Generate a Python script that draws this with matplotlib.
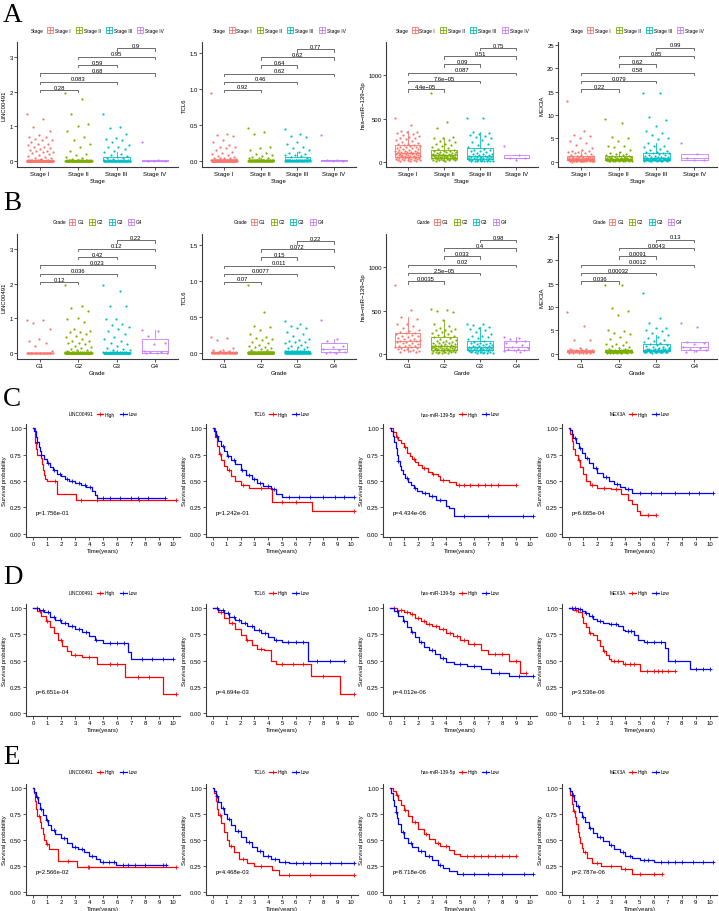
import numpy as np
import matplotlib.pyplot as plt
from matplotlib.lines import Line2D

plt.rcParams['font.family'] = ['Liberation Sans', 'DejaVu Sans']

W, H = 719, 912

# ---------------- box plot data (panels A and B) ----------------
stage_names = ["Stage I", "Stage II", "Stage III", "Stage IV"]
grade_names = ["G1", "G2", "G3", "G4"]
pairs = [(1, 2), (1, 3), (1, 4), (2, 3), (2, 4), (3, 4)]

stage_linc = [
    [1.35, 1.2, 0.97, 0.87, 0.75, 0.7, 0.68, 0.65, 0.62, 0.6, 0.55, 0.5, 0.48, 0.45, 0.42, 0.4,
     0.38, 0.35, 0.32, 0.3, 0.28, 0.27, 0.25, 0.22, 0.2, 0.18, 0.15, 0.12, 0.1, 0.08, 0.05, 0.04]
    + [0.0] * 70 + [0.01] * 25 + [0.02] * 10,
    [1.97, 1.8, 1.35, 1.08, 1.0, 0.88, 0.7, 0.62, 0.5, 0.42, 0.3, 0.2, 0.18, 0.12, 0.08, 0.06]
    + [0.0] * 45 + [0.01] * 15 + [0.03] * 12,
    [1.37, 0.98, 0.95, 0.77, 0.67, 0.65, 0.62, 0.55, 0.45, 0.42, 0.4, 0.35, 0.3, 0.25, 0.2, 0.17,
     0.15, 0.12, 0.1, 0.08, 0.06] + [0.0] * 30 + [0.01] * 12 + [0.03] * 8,
    [0.56, 0.02, 0.01, 0.0, 0.0],
]
stage_tcl6 = [
    [0.95, 0.37, 0.36, 0.35, 0.3, 0.27, 0.23, 0.2, 0.2, 0.18, 0.15, 0.13, 0.12, 0.1, 0.08, 0.07,
     0.06, 0.05, 0.05, 0.04, 0.04, 0.03] + [0.0] * 60 + [0.01] * 25 + [0.02] * 15,
    [0.46, 0.4, 0.37, 0.2, 0.18, 0.16, 0.12, 0.1, 0.08, 0.07, 0.06, 0.05, 0.04, 0.04]
    + [0.0] * 40 + [0.01] * 15 + [0.02] * 10,
    [0.45, 0.37, 0.35, 0.33, 0.27, 0.24, 0.2, 0.18, 0.15, 0.13, 0.12, 0.1, 0.09, 0.08, 0.07, 0.06,
     0.05] + [0.0] * 25 + [0.01] * 12 + [0.02] * 8,
    [0.36, 0.02, 0.01, 0.0, 0.0],
]
stage_mir = [
    [505, 420, 360, 350, 340, 330, 320, 310, 300, 290, 280, 270, 260, 250, 240, 230, 220, 210, 200,
     195, 190, 185, 180, 175, 170, 165, 160, 155, 150, 145, 140, 135, 130, 125, 120, 118, 115, 112,
     110, 108, 105, 102, 100, 98, 95, 92, 90, 88, 85, 82, 80, 78, 75, 72, 70, 68, 65, 62, 60, 58,
     55, 52, 50, 48, 45, 42, 40, 38, 35, 32, 30, 28, 25, 22, 20, 18, 15, 12, 10, 8],
    [800, 455, 390, 290, 280, 270, 255, 240, 225, 210, 200, 190, 180, 170, 160, 150, 140, 130, 125,
     120, 118, 115, 110, 105, 100, 95, 92, 90, 88, 85, 82, 80, 78, 76, 74, 72, 70, 68, 66, 64, 62,
     60, 58, 56, 54, 52, 50, 48, 46, 44, 42, 40, 38, 36, 34, 32, 30, 28, 26, 24, 22, 20, 18, 15, 12, 10],
    [510, 505, 340, 335, 320, 310, 300, 290, 270, 250, 230, 210, 190, 170, 150, 140, 135, 130, 120,
     110, 100, 95, 90, 85, 80, 75, 70, 65, 62, 60, 58, 55, 52, 50, 48, 45, 42, 40, 38, 35, 32, 30,
     28, 25, 22, 20, 18, 16, 14, 12, 10, 8, 6, 5, 4, 3],
    [185, 82, 48, 42, 25],
]
stage_mex3a = [
    [13.0, 6.5, 5.8, 5.5, 5.2, 4.5, 4.0, 3.5, 3.0, 2.5, 2.4, 2.3, 2.2, 2.0, 1.9, 1.8, 1.6, 1.5, 1.4,
     1.3, 1.2, 1.2, 1.1, 1.1, 1.0, 1.0, 0.95, 0.9, 0.9, 0.85, 0.8, 0.8, 0.75, 0.7, 0.7, 0.68, 0.65,
     0.62, 0.6, 0.6, 0.58, 0.55, 0.52, 0.5, 0.5, 0.48, 0.45, 0.42, 0.4, 0.4, 0.38, 0.35, 0.32, 0.3,
     0.3, 0.28, 0.25, 0.22, 0.2, 0.2, 0.18, 0.15, 0.12, 0.1, 0.08, 0.05,
     0.9, 0.8, 0.7, 0.6, 0.5, 0.45, 0.4, 0.35, 0.3, 0.25, 0.2, 0.15, 0.6, 0.5, 0.4, 0.3, 0.7, 0.55,
     0.45, 0.35],
    [9.2, 8.3, 5.3, 5.0, 4.4, 3.3, 3.3, 3.2, 2.5, 2.0, 1.8, 1.7, 1.6, 1.5, 1.4, 1.3, 1.2, 1.2, 1.1,
     1.0, 1.0, 0.95, 0.9, 0.9, 0.85, 0.8, 0.8, 0.75, 0.7, 0.7, 0.65, 0.6, 0.6, 0.58, 0.55, 0.52, 0.5,
     0.5, 0.48, 0.45, 0.42, 0.4, 0.4, 0.38, 0.35, 0.32, 0.3, 0.3, 0.28, 0.25, 0.22, 0.2, 0.18, 0.15,
     0.12, 0.1, 0.9, 0.8, 0.7, 0.6, 0.5, 0.45, 0.4, 0.35, 0.3, 0.25, 0.6, 0.5, 0.4, 0.3],
    [14.8, 14.7, 9.6, 9.0, 7.6, 6.5, 6.2, 5.7, 5.0, 4.8, 4.0, 3.4, 3.3, 3.2, 2.8, 2.5, 2.3, 2.2, 2.0,
     1.9, 1.9, 1.8, 1.6, 1.5, 1.4, 1.3, 1.2, 1.1, 1.0, 1.0, 0.95, 0.9, 0.85, 0.8, 0.75, 0.7, 0.7,
     0.65, 0.6, 0.55, 0.5, 0.5, 0.45, 0.4, 0.38, 0.35, 0.3, 0.28, 0.25, 0.2, 0.15, 0.1,
     0.9, 0.8, 0.7, 0.6, 0.5, 0.45, 0.4, 0.35, 0.3, 0.25, 0.6, 0.5, 0.4, 0.3, 0.7, 0.55, 0.45, 0.35,
     0.2, 0.65, 0.75, 0.5, 0.4, 0.3],
    [4.0, 1.6, 0.8, 0.5, 0.3],
]

grade_linc = [
    [0.95, 0.95, 0.88, 0.68, 0.42, 0.35, 0.28, 0.2, 0.05] + [0.0] * 25 + [0.01] * 8,
    [1.97, 1.37, 1.3, 1.2, 1.0, 0.98, 0.9, 0.7, 0.65, 0.6, 0.6, 0.55, 0.5, 0.45, 0.4, 0.35, 0.35,
     0.3, 0.28, 0.25, 0.2, 0.18, 0.15, 0.12, 0.1, 0.08, 0.06] + [0.0] * 70 + [0.01] * 20 + [0.03] * 15,
    [1.97, 1.8, 1.35, 1.35, 0.98, 0.97, 0.85, 0.8, 0.75, 0.7, 0.65, 0.55, 0.45, 0.4, 0.35, 0.3, 0.25,
     0.2, 0.15, 0.12, 0.1, 0.08] + [0.0] * 50 + [0.01] * 15 + [0.04] * 10,
    [0.66, 0.63, 0.5, 0.3, 0.25, 0.05, 0.03, 0.02, 0.01, 0.0, 0.0],
]
grade_tcl6 = [
    [0.23, 0.21, 0.18, 0.07, 0.05, 0.04, 0.03, 0.03] + [0.0] * 25 + [0.01] * 10,
    [0.95, 0.57, 0.37, 0.36, 0.32, 0.27, 0.23, 0.21, 0.19, 0.18, 0.16, 0.14, 0.12, 0.1, 0.09, 0.08,
     0.07, 0.06, 0.05, 0.04] + [0.0] * 90 + [0.01] * 25 + [0.02] * 15,
    [0.45, 0.4, 0.37, 0.35, 0.35, 0.3, 0.27, 0.24, 0.2, 0.18, 0.17, 0.16, 0.15, 0.14, 0.12, 0.1,
     0.09, 0.08, 0.07, 0.06] + [0.0] * 45 + [0.01] * 15 + [0.03] * 12,
    [0.46, 0.19, 0.17, 0.1, 0.08, 0.06, 0.05, 0.02, 0.01, 0.0, 0.0],
]
grade_mir = [
    [800, 510, 420, 400, 350, 340, 320, 300, 280, 260, 250, 240, 235, 230, 220, 210, 200, 190, 180,
     170, 165, 160, 155, 150, 145, 140, 135, 130, 120, 110, 100, 95, 90, 85, 80, 75, 70, 65, 60, 50,
     45, 40, 35, 30, 25, 20],
    [520, 510, 500, 480, 390, 340, 320, 300, 290, 280, 270, 260, 250, 240, 230, 220, 210, 200, 190,
     180, 170, 160, 150, 145, 140, 135, 130, 125, 120, 115, 110, 105, 100, 97, 95, 92, 90, 88, 85, 82,
     80, 78, 75, 72, 70, 68, 65, 62, 60, 58, 55, 52, 50, 48, 45, 42, 40, 38, 35, 32, 30, 28, 25, 22,
     20, 18, 15, 12, 10, 8, 5],
    [350, 340, 330, 310, 300, 290, 270, 250, 230, 210, 200, 190, 180, 165, 150, 140, 130, 125, 120,
     115, 110, 105, 100, 95, 90, 85, 80, 78, 75, 72, 70, 68, 65, 62, 60, 58, 55, 52, 50, 48, 45, 42,
     40, 38, 35, 32, 30, 28, 25, 22, 20, 18, 15, 12, 10, 8, 5],
    [190, 180, 170, 150, 140, 130, 100, 80, 70, 60, 50, 45, 40, 30, 20],
]
grade_mex3a = [
    [8.9, 6.0, 3.0, 3.0, 1.3, 1.1, 1.0, 0.9, 0.85, 0.8, 0.75, 0.7, 0.65, 0.6, 0.55, 0.5, 0.45, 0.4,
     0.4, 0.35, 0.3, 0.3, 0.25, 0.2, 0.2, 0.15, 0.1, 0.1],
    [14.8, 14.7, 9.7, 9.1, 8.4, 5.0, 4.9, 4.5, 4.3, 3.5, 3.1, 2.5, 2.2, 2.0, 1.8, 1.6, 1.4, 1.2, 1.0,
     0.95, 0.9, 0.85, 0.8, 0.8, 0.75, 0.7, 0.7, 0.65, 0.6, 0.6, 0.55, 0.5, 0.5, 0.48, 0.45, 0.42,
     0.4, 0.4, 0.38, 0.35, 0.32, 0.3, 0.3, 0.28, 0.25, 0.2, 0.18, 0.15,
     0.75, 0.7, 0.65, 0.6, 0.55, 0.5, 0.45, 0.4, 0.35, 0.3, 0.75, 0.7, 0.65, 0.6, 0.55, 0.5, 0.45,
     0.4, 0.35, 0.3, 0.72, 0.68, 0.62, 0.58, 0.52, 0.48, 0.42, 0.38, 0.32, 0.28, 0.7, 0.6, 0.5, 0.4,
     0.3, 0.25, 0.65, 0.55, 0.45, 0.35],
    [13.0, 7.6, 6.6, 5.6, 5.5, 5.2, 4.8, 4.4, 4.0, 3.6, 3.3, 3.0, 2.8, 2.5, 2.3, 2.1, 1.9, 1.8, 1.6,
     1.5, 1.4, 1.3, 1.2, 1.1, 1.0, 0.95, 0.9, 0.85, 0.8, 0.75, 0.7, 0.65, 0.6, 0.55, 0.5, 0.48,
     0.45, 0.42, 0.4, 0.35, 0.3, 0.25, 1.2, 1.0, 0.9, 0.8, 0.7, 0.6, 0.5, 0.45, 0.4, 0.35, 1.1,
     0.95, 0.85, 0.75, 0.65, 0.55, 0.5, 0.45, 0.4, 0.3],
    [6.5, 5.8, 2.5, 2.4, 2.0, 1.5, 1.2, 1.0, 0.8, 0.6, 0.5],
]

stage_p_linc = ["0.28", "0.083", "0.68", "0.59", "0.95", "0.9"]
stage_p_tcl6 = ["0.92", "0.46", "0.62", "0.64", "0.62", "0.77"]
stage_p_mir = ["4.4e\u221205", "7.6e\u221205", "0.087", "0.09", "0.51", "0.75"]
stage_p_mex3a = ["0.22", "0.079", "0.58", "0.62", "0.85", "0.99"]
grade_p_linc = ["0.12", "0.036", "0.023", "0.42", "0.12", "0.22"]
grade_p_tcl6 = ["0.07", "0.0077", "0.011", "0.15", "0.072", "0.22"]
grade_p_mir = ["0.0035", "2.5e\u221205", "0.02", "0.033", "0.4", "0.98"]
grade_p_mex3a = ["0.036", "0.00032", "0.0012", "0.0091", "0.0043", "0.13"]

box_ylabels = ["LINC00491", "TCL6", "hsa\u2212miR\u2212139\u22125p", "MEX3A"]

# ---------------- survival data (panels C, D, E): (time, survival) steps ----------------
km_genes = ["LINC00491", "TCL6", "has-miR-139-5p", "MEX3A"]

C_linc_hi = [(0, 1), (0.12, 0.93), (0.17, 0.86), (0.22, 0.8), (0.28, 0.75), (0.56, 0.72), (0.62, 0.66),
             (0.68, 0.6), (0.75, 0.56), (0.85, 0.52), (1.0, 0.5), (1.72, 0.38), (3.08, 0.32)]
C_linc_hi_cens = [1.6, 3.4, 4.6, 7.6, 10.2]
C_linc_lo = [(0, 1), (0.1, 0.97), (0.2, 0.92), (0.3, 0.87), (0.4, 0.82), (0.5, 0.78), (0.6, 0.75),
             (0.8, 0.71), (1.0, 0.67), (1.2, 0.63), (1.4, 0.6), (1.7, 0.57), (2.0, 0.55), (2.3, 0.52),
             (2.6, 0.5), (3.0, 0.48), (3.4, 0.46), (3.8, 0.44), (4.2, 0.41), (4.4, 0.37), (4.6, 0.34)]
C_linc_lo_cens = [0.3, 0.6, 1.1, 1.5, 1.9, 2.4, 2.8, 3.3, 3.7, 4.1, 5.0, 5.5, 6.2, 7.0, 7.5, 8.2, 9.4]

C_tcl6_hi = [(0, 1), (0.15, 0.92), (0.3, 0.83), (0.45, 0.76), (0.6, 0.7), (0.8, 0.64), (1.0, 0.6),
             (1.3, 0.55), (1.6, 0.5), (2.0, 0.46), (2.6, 0.43), (4.3, 0.3), (7.2, 0.22)]
C_tcl6_hi_cens = [0.5, 1.2, 2.2, 3.5, 5.0, 6.0, 10.2]
C_tcl6_lo = [(0, 1), (0.1, 0.97), (0.25, 0.93), (0.4, 0.88), (0.6, 0.83), (0.8, 0.78), (1.0, 0.74),
             (1.3, 0.7), (1.6, 0.66), (2.0, 0.6), (2.4, 0.56), (2.8, 0.52), (3.2, 0.48), (3.6, 0.45),
             (4.2, 0.42), (4.6, 0.38), (5.0, 0.35)]
C_tcl6_lo_cens = [0.3, 0.7, 1.1, 1.5, 2.1, 2.6, 3.0, 3.4, 4.0, 4.4, 5.5, 6.2, 7.0, 8.0, 8.8, 9.5, 10.2]

C_mir_hi = [(0, 1), (0.2, 0.96), (0.4, 0.92), (0.6, 0.89), (0.8, 0.86), (1.0, 0.82), (1.2, 0.77),
            (1.4, 0.74), (1.6, 0.71), (1.8, 0.68), (2.0, 0.65), (2.3, 0.62), (2.7, 0.59), (3.0, 0.57),
            (3.4, 0.55), (3.6, 0.51), (4.2, 0.49), (4.7, 0.46)]
C_mir_hi_cens = [0.5, 1.1, 1.7, 2.4, 3.1, 3.8, 4.9, 5.3, 5.7, 6.3, 6.8, 7.2, 7.7, 9.0]
C_mir_lo = [(0, 1), (0.1, 0.97), (0.2, 0.93), (0.3, 0.87), (0.4, 0.81), (0.5, 0.75), (0.6, 0.69),
            (0.7, 0.64), (0.8, 0.6), (0.9, 0.57), (1.1, 0.53), (1.3, 0.49), (1.5, 0.46), (1.7, 0.43),
            (1.9, 0.41), (2.3, 0.39), (2.8, 0.36), (3.3, 0.32), (4.0, 0.26), (4.2, 0.24), (4.6, 0.17)]
C_mir_lo_cens = [0.6, 1.2, 1.8, 2.5, 3.0, 3.6, 5.3, 7.0, 9.5, 10.2]

C_mex3a_hi = [(0, 1), (0.1, 0.95), (0.2, 0.88), (0.3, 0.8), (0.4, 0.75), (0.6, 0.7), (0.8, 0.63),
              (1.0, 0.57), (1.2, 0.5), (1.5, 0.46), (2.0, 0.43), (3.0, 0.42), (3.7, 0.38), (4.2, 0.32),
              (4.5, 0.28), (4.8, 0.22), (5.0, 0.18)]
C_mex3a_hi_cens = [0.7, 1.6, 2.5, 3.3, 5.6, 6.2]
C_mex3a_lo = [(0, 1), (0.1, 0.98), (0.2, 0.95), (0.3, 0.91), (0.5, 0.86), (0.7, 0.81), (0.9, 0.77),
              (1.1, 0.72), (1.4, 0.67), (1.7, 0.62), (2.0, 0.58), (2.4, 0.54), (2.8, 0.5), (3.2, 0.47),
              (3.6, 0.44), (4.0, 0.42), (4.5, 0.39)]
C_mex3a_lo_cens = [0.4, 0.8, 1.3, 1.9, 2.6, 3.4, 4.2, 5.0, 5.8, 6.5, 7.5, 8.5, 9.2, 10.2]

D_linc_hi = [(0, 1), (0.3, 0.97), (0.6, 0.93), (0.9, 0.88), (1.2, 0.82), (1.5, 0.76), (1.8, 0.7),
             (2.1, 0.64), (2.4, 0.59), (2.7, 0.55), (3.5, 0.53), (4.6, 0.47), (6.6, 0.34), (9.3, 0.18)]
D_linc_hi_cens = [0.5, 1.0, 2.0, 3.0, 4.0, 5.5, 6.0, 7.5, 8.3, 10.2]
D_linc_lo = [(0, 1), (0.4, 0.98), (0.8, 0.96), (1.2, 0.92), (1.6, 0.89), (2.0, 0.86), (2.5, 0.83),
             (3.0, 0.8), (3.5, 0.77), (4.0, 0.73), (4.4, 0.7), (5.0, 0.67), (6.8, 0.58), (7.0, 0.51)]
D_linc_lo_cens = [0.3, 0.7, 1.1, 1.5, 1.9, 2.3, 2.8, 3.3, 3.8, 4.5, 5.5, 6.0, 6.5, 7.8, 8.5, 9.3, 10.0]

D_tcl6_hi = [(0, 1), (0.4, 0.96), (0.8, 0.91), (1.2, 0.86), (1.6, 0.8), (2.0, 0.74), (2.4, 0.7),
             (2.8, 0.65), (3.2, 0.61), (3.7, 0.6), (4.2, 0.5), (4.6, 0.47), (7.1, 0.35), (9.2, 0.18)]
D_tcl6_hi_cens = [0.6, 1.4, 2.5, 3.5, 5.0, 5.8, 6.5, 8.0, 10.2]
D_tcl6_lo = [(0, 1), (0.4, 0.98), (0.8, 0.95), (1.2, 0.92), (1.6, 0.89), (2.0, 0.86), (2.5, 0.83),
             (3.0, 0.79), (3.5, 0.76), (4.0, 0.72), (4.4, 0.7), (5.0, 0.68), (6.9, 0.5)]
D_tcl6_lo_cens = [0.3, 0.7, 1.1, 1.5, 1.9, 2.3, 2.8, 3.3, 3.8, 4.6, 5.4, 6.0, 6.5, 7.5, 8.5, 9.5]

D_mir_hi = [(0, 1), (0.5, 0.98), (1.0, 0.96), (1.4, 0.94), (1.8, 0.91), (2.2, 0.88), (2.6, 0.85),
            (3.0, 0.83), (3.5, 0.8), (4.0, 0.76), (4.5, 0.73), (5.0, 0.7), (5.6, 0.66), (6.5, 0.6),
            (7.0, 0.56), (8.5, 0.5), (9.3, 0.38)]
D_mir_hi_cens = [0.3, 0.8, 1.2, 1.6, 2.0, 2.4, 2.8, 3.3, 3.8, 4.3, 4.8, 5.3, 6.0, 7.5, 8.0, 9.0, 9.7]
D_mir_lo = [(0, 1), (0.3, 0.97), (0.6, 0.93), (0.9, 0.88), (1.2, 0.82), (1.5, 0.77), (1.8, 0.72),
            (2.1, 0.68), (2.4, 0.63), (2.8, 0.6), (3.2, 0.56), (3.6, 0.52), (4.0, 0.49), (4.6, 0.47),
            (5.5, 0.45), (6.5, 0.42), (7.2, 0.38), (8.5, 0.35)]
D_mir_lo_cens = [0.5, 1.0, 1.6, 2.2, 3.0, 3.8, 5.0, 6.0, 7.8, 9.2, 10.2]

D_mex3a_hi = [(0, 1), (0.3, 0.98), (0.6, 0.96), (0.9, 0.92), (1.0, 0.86), (1.2, 0.82), (1.4, 0.76),
              (1.7, 0.74), (2.0, 0.7), (2.2, 0.64), (2.4, 0.59), (2.6, 0.55), (2.8, 0.51), (3.0, 0.5),
              (3.8, 0.47), (5.0, 0.4)]
D_mex3a_hi_cens = [0.5, 1.5, 2.5, 3.2, 3.5, 4.0, 4.3, 4.6, 5.5, 6.0, 6.3, 6.6, 7.0, 7.5]
D_mex3a_lo = [(0, 1), (0.6, 0.99), (0.9, 0.97), (1.1, 0.95), (1.4, 0.93), (1.7, 0.9), (2.0, 0.88),
              (2.4, 0.86), (2.8, 0.85), (3.5, 0.83), (3.8, 0.79), (4.0, 0.78), (4.6, 0.74), (4.9, 0.7),
              (5.3, 0.68), (6.8, 0.62), (7.0, 0.5), (8.6, 0.42)]
D_mex3a_lo_cens = [0.2, 0.4, 0.8, 1.2, 1.6, 2.2, 3.0, 3.3, 4.2, 4.4, 5.5, 6.0, 6.5, 7.5, 9.0, 9.5, 10.0]

E_linc_hi = [(0, 1), (0.1, 0.95), (0.15, 0.88), (0.2, 0.8), (0.28, 0.73), (0.5, 0.67), (0.6, 0.62),
             (0.7, 0.56), (0.8, 0.5), (0.9, 0.46), (1.15, 0.41), (1.78, 0.3), (3.13, 0.24)]
E_linc_hi_cens = [0.4, 1.0, 2.5, 3.9, 4.0, 10.2]
E_linc_lo = [(0, 1), (0.1, 0.96), (0.2, 0.91), (0.35, 0.86), (0.5, 0.8), (0.7, 0.74), (0.9, 0.69),
             (1.1, 0.64), (1.3, 0.6), (1.6, 0.56), (2.0, 0.52), (2.4, 0.47), (2.8, 0.43), (3.2, 0.41),
             (3.65, 0.38), (4.0, 0.35), (4.5, 0.32), (4.8, 0.29), (5.9, 0.26)]
E_linc_lo_cens = [0.3, 0.6, 1.0, 1.5, 2.2, 3.0, 3.5, 4.2, 5.0, 5.4, 5.8, 6.4, 6.8, 7.3, 8.0, 9.3, 9.5]

E_tcl6_hi = [(0, 1), (0.1, 0.95), (0.2, 0.88), (0.3, 0.8), (0.4, 0.74), (0.6, 0.66), (0.8, 0.58),
             (1.0, 0.5), (1.2, 0.44), (1.5, 0.38), (1.9, 0.32), (2.5, 0.28), (3.0, 0.25), (4.3, 0.21),
             (4.8, 0.16)]
E_tcl6_hi_cens = [0.5, 1.3, 2.2, 3.5, 5.5, 7.0, 10.2]
E_tcl6_lo = [(0, 1), (0.1, 0.97), (0.25, 0.92), (0.4, 0.87), (0.6, 0.81), (0.8, 0.75), (1.0, 0.7),
             (1.3, 0.64), (1.6, 0.59), (2.0, 0.53), (2.4, 0.48), (2.8, 0.43), (3.2, 0.39), (3.6, 0.35),
             (4.2, 0.32), (4.8, 0.29), (5.5, 0.28)]
E_tcl6_lo_cens = [0.3, 0.7, 1.2, 1.8, 2.6, 3.4, 4.0, 4.5, 5.2, 6.0, 6.5, 7.0, 7.8, 8.5, 9.3, 10.2]

E_mir_hi = [(0, 1), (0.2, 0.97), (0.4, 0.93), (0.6, 0.89), (0.8, 0.84), (1.0, 0.79), (1.3, 0.73),
            (1.6, 0.67), (2.0, 0.61), (2.4, 0.56), (2.8, 0.51), (3.2, 0.47), (3.6, 0.44), (4.2, 0.4),
            (4.6, 0.37), (5.0, 0.35)]
E_mir_hi_cens = [0.5, 1.1, 1.8, 2.6, 3.4, 4.0, 5.5, 6.0, 6.5, 7.0, 7.5, 8.0, 8.5, 9.0]
E_mir_lo = [(0, 1), (0.1, 0.95), (0.2, 0.89), (0.3, 0.83), (0.4, 0.77), (0.5, 0.71), (0.6, 0.65),
            (0.8, 0.58), (1.0, 0.52), (1.3, 0.47), (1.6, 0.43), (2.0, 0.39), (2.5, 0.35), (3.0, 0.31),
            (3.4, 0.26), (3.8, 0.23), (4.2, 0.2), (4.8, 0.17)]
E_mir_lo_cens = [0.4, 0.9, 1.5, 2.2, 2.8, 3.6, 5.2, 6.0, 7.0, 8.0, 9.6, 10.2]

E_mex3a_hi = [(0, 1), (0.1, 0.93), (0.2, 0.85), (0.3, 0.78), (0.4, 0.72), (0.5, 0.65), (0.6, 0.58),
              (0.7, 0.53), (0.8, 0.47), (0.9, 0.42), (1.0, 0.38), (1.3, 0.33), (1.6, 0.28), (2.3, 0.25),
              (3.7, 0.22), (4.5, 0.17)]
E_mex3a_hi_cens = [0.35, 1.1, 2.0, 3.0, 4.0, 5.0, 6.0, 6.6]
E_mex3a_lo = [(0, 1), (0.1, 0.97), (0.2, 0.93), (0.35, 0.88), (0.5, 0.83), (0.7, 0.77), (0.9, 0.72),
              (1.1, 0.67), (1.4, 0.62), (1.7, 0.57), (2.0, 0.53), (2.4, 0.49), (2.8, 0.45), (3.2, 0.41),
              (3.6, 0.38), (4.0, 0.35), (4.5, 0.33), (5.0, 0.31), (6.0, 0.29)]
E_mex3a_lo_cens = [0.3, 0.6, 1.0, 1.5, 2.2, 3.0, 3.8, 4.3, 5.3, 5.6, 6.5, 7.0, 7.5, 8.0, 8.8, 9.5, 10.2]

C_pvals = ["p=1.756e-01", "p=1.242e-01", "p=4.434e-06", "p=6.665e-04"]
D_pvals = ["p=6.651e-04", "p=4.694e-03", "p=4.012e-06", "p=3.536e-06"]
E_pvals = ["p=2.566e-02", "p=4.468e-03", "p=8.718e-06", "p=2.787e-06"]

# ---------------- layout ----------------
gg = ['#F8766D', '#7CAE00', '#00BFC4', '#C77CFF']
box_cols = [(17, 178), (202, 356), (386, 538), (558, 717)]
km_cols = [(26, 180), (206, 358), (383, 537), (562, 717)]
box_scale = [((-0.17, 3.43), [0, 1, 2, 3], ["0", "1", "2", "3"], 2.05, 0.24),
             ((-0.08, 1.65), [0, 0.5, 1.0, 1.5], ["0.0", "0.5", "1.0", "1.5"], 0.99, 0.112),
             ((-61, 1387), [0, 500, 1000], ["0", "500", "1000"], 840, 95.5),
             ((-1.1, 25.6), [0, 5, 10, 15, 20, 25], ["0", "5", "10", "15", "20", "25"], 15.5, 1.78)]

fig = plt.figure(figsize=(W / 100, H / 100), dpi=100)
AX_C = '#3a3a3a'
legend_jobs = []


def px_axes(x0, x1, y0, y1):
    return fig.add_axes([x0 / W, 1 - y1 / H, (x1 - x0) / W, (y1 - y0) / H])


def style_axes(ax):
    for s in ['top', 'right']:
        ax.spines[s].set_visible(False)
    for s in ['left', 'bottom']:
        ax.spines[s].set_color(AX_C)
        ax.spines[s].set_linewidth(0.8)
    ax.tick_params(labelsize=4.3, length=2, width=0.6, pad=1, color=AX_C)


def box_panel(ax, groups, names, pvals, ylabel, xlabel, scale):
    lims, ticks, tlabels, base, step = scale
    for i, vals in enumerate(groups):
        v = np.asarray(vals, float)
        pos = i + 1
        c = gg[i]
        ax.boxplot(v, positions=[pos], widths=0.7, showfliers=False, showcaps=False,
                   manage_ticks=False,
                   boxprops=dict(color=c, lw=0.6), medianprops=dict(color=c, lw=0.6),
                   whiskerprops=dict(color=c, lw=0.6))
        jit = ((np.arange(len(v)) * 0.6180339) % 1.0 - 0.5) * 0.7
        ax.scatter(pos + jit, v, s=2.5, color=c, lw=0, zorder=3)
    for k, ((a, b), p) in enumerate(zip(pairs, pvals)):
        y = base + k * step
        ax.plot([a, a, b, b], [y - step * 0.3, y, y, y - step * 0.3], color='#555555', lw=0.6)
        ax.text((a + b) / 2, y + step * 0.04, p, ha='center', va='bottom', fontsize=4.2)
    ax.set_xlim(0.4, 4.6)
    ax.set_ylim(*lims)
    ax.set_xticks([1, 2, 3, 4])
    ax.set_xticklabels(names)
    ax.set_yticks(ticks)
    ax.set_yticklabels(tlabels)
    style_axes(ax)
    ax.set_ylabel(ylabel, fontsize=4.3, labelpad=2)
    ax.set_xlabel(xlabel, fontsize=4.3, labelpad=1)


def km_panel(ax, gene, hi, hi_c, lo, lo_c, ptxt):
    for curve, cens, col in ((hi, hi_c, '#FF0000'), (lo, lo_c, '#0000FF')):
        t = [p[0] for p in curve]
        s = [p[1] for p in curve]
        tend = max(max(cens), t[-1])
        ax.step(t + [tend], s + [s[-1]], where='post', color=col, lw=0.9)
        idx = np.searchsorted(t, cens, side='right') - 1
        ax.plot(cens, np.asarray(s)[idx], '+', color=col, ms=3, mew=0.6)
    ax.text(0.2, 0.2, ptxt, fontsize=4.3, va='center', ha='left')
    ax.set_xlim(-0.5, 10.5)
    ax.set_ylim(-0.03, 1.04)
    ax.set_xticks(range(11))
    ax.set_yticks([0, 0.25, 0.5, 0.75, 1.0])
    ax.set_yticklabels(["0.00", "0.25", "0.50", "0.75", "1.00"])
    style_axes(ax)
    ax.set_ylabel("Survival probability", fontsize=4.2, labelpad=2)
    ax.set_xlabel("Time(years)", fontsize=4.3, labelpad=1)


def add_legend(ax, handles, labels, title, cy, cx):
    leg = ax.legend(handles, labels, ncol=len(labels), loc='center',
                    bbox_to_anchor=(cx / W, 1 - cy / H), bbox_transform=fig.transFigure,
                    frameon=False, borderpad=0, fontsize=3.5, handlelength=1.4,
                    handletextpad=0.3, columnspacing=1.0)
    ttl = fig.text(0, 1 - cy / H, title, fontsize=3.5, ha='left', va='center')
    legend_jobs.append((leg, ttl, cx, cy))


def box_handles():
    return [(Line2D([], [], color=c, marker='s', mfc='none', ms=4.5, mew=0.6, ls='none'),
             Line2D([], [], color=c, marker='+', ms=4.5, mew=0.6, ls='none')) for c in gg]


# ---- panel A (stage) and B (grade) ----
stage_sets = [(stage_linc, stage_p_linc), (stage_tcl6, stage_p_tcl6),
              (stage_mir, stage_p_mir), (stage_mex3a, stage_p_mex3a)]
grade_sets = [(grade_linc, grade_p_linc), (grade_tcl6, grade_p_tcl6),
              (grade_mir, grade_p_mir), (grade_mex3a, grade_p_mex3a)]

for j in range(4):
    x0, x1 = box_cols[j]
    ax = px_axes(x0, x1, 43, 168)
    box_panel(ax, stage_sets[j][0], stage_names, stage_sets[j][1], box_ylabels[j], "Stage", box_scale[j])
    add_legend(ax, box_handles(), stage_names, "Stage", 31, (x0 + x1) / 2)

    ax = px_axes(x0, x1, 235, 360)
    gl = "Garde" if j == 2 else "Grade"
    box_panel(ax, grade_sets[j][0], grade_names, grade_sets[j][1], box_ylabels[j], gl, box_scale[j])
    add_legend(ax, box_handles(), grade_names, gl, 223, (x0 + x1) / 2)

# ---- panels C, D, E (survival) ----
km_rows = [
    ([(C_linc_hi, C_linc_hi_cens, C_linc_lo, C_linc_lo_cens),
      (C_tcl6_hi, C_tcl6_hi_cens, C_tcl6_lo, C_tcl6_lo_cens),
      (C_mir_hi, C_mir_hi_cens, C_mir_lo, C_mir_lo_cens),
      (C_mex3a_hi, C_mex3a_hi_cens, C_mex3a_lo, C_mex3a_lo_cens)], C_pvals, 425, 538, 415),
    ([(D_linc_hi, D_linc_hi_cens, D_linc_lo, D_linc_lo_cens),
      (D_tcl6_hi, D_tcl6_hi_cens, D_tcl6_lo, D_tcl6_lo_cens),
      (D_mir_hi, D_mir_hi_cens, D_mir_lo, D_mir_lo_cens),
      (D_mex3a_hi, D_mex3a_hi_cens, D_mex3a_lo, D_mex3a_lo_cens)], D_pvals, 605, 717, 594),
    ([(E_linc_hi, E_linc_hi_cens, E_linc_lo, E_linc_lo_cens),
      (E_tcl6_hi, E_tcl6_hi_cens, E_tcl6_lo, E_tcl6_lo_cens),
      (E_mir_hi, E_mir_hi_cens, E_mir_lo, E_mir_lo_cens),
      (E_mex3a_hi, E_mex3a_hi_cens, E_mex3a_lo, E_mex3a_lo_cens)], E_pvals, 785, 896, 773),
]

km_handles = [Line2D([], [], color='#FF0000', lw=0.9, marker='+', ms=3, mew=0.6),
              Line2D([], [], color='#0000FF', lw=0.9, marker='+', ms=3, mew=0.6)]

for curves, pv, y0, y1, ly in km_rows:
    for j in range(4):
        x0, x1 = km_cols[j]
        ax = px_axes(x0, x1, y0, y1)
        hi, hi_c, lo, lo_c = curves[j]
        km_panel(ax, km_genes[j], hi, hi_c, lo, lo_c, pv[j])
        add_legend(ax, km_handles, ["High", "Low"], km_genes[j], ly, (x0 + x1) / 2)

# ---- panel letters ----
for letter, yc in zip("ABCDE", [16, 203, 399, 578, 757]):
    fig.text(3 / W, 1 - yc / H, letter, fontsize=19.5, family=['Liberation Serif', 'DejaVu Serif'],
             ha='left', va='center')

# center legend + title group over each panel
fig.canvas.draw()
r = fig.canvas.get_renderer()
for leg, ttl, cx, cy in legend_jobs:
    lw = leg.get_window_extent(r).width
    tw = ttl.get_window_extent(r).width
    gap = 3
    left = cx - (tw + gap + lw) / 2
    ttl.set_position((left / W, 1 - cy / H))
    leg.set_bbox_to_anchor(((left + tw + gap + lw / 2) / W, 1 - cy / H), transform=fig.transFigure)

fig.savefig('out.png', dpi=100)
